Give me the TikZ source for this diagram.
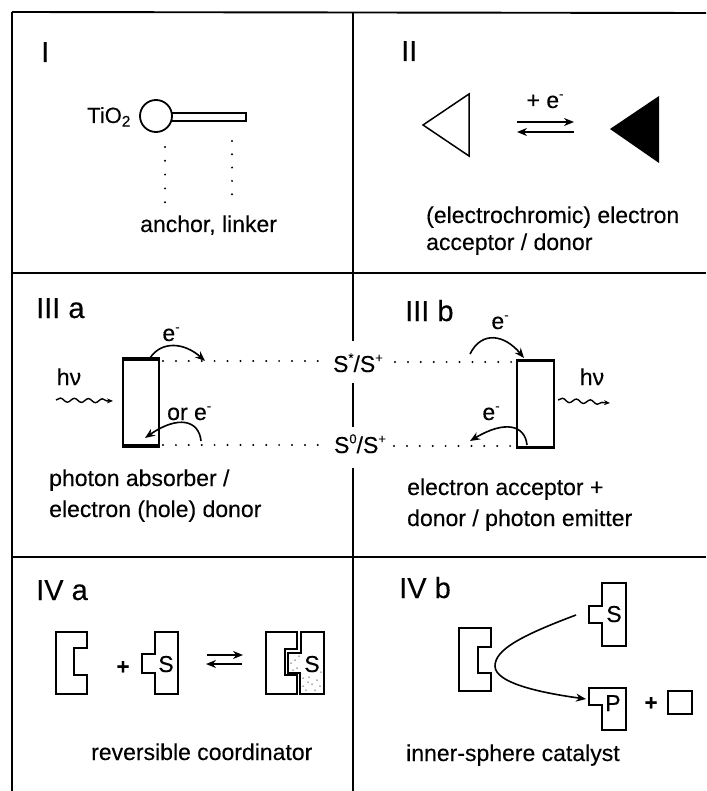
\documentclass[tikz,border=0pt]{standalone}
\usepackage{fontspec}
\setmainfont{Liberation Sans}[FakeBold=0.25]
\usetikzlibrary{arrows.meta,decorations.pathmorphing}
\tikzset{
  lab/.style={inner sep=0pt,anchor=base west,font=\fontsize{23}{26}\selectfont},
  midlab/.style={inner sep=0pt,anchor=base,font=\fontsize{23}{26}\selectfont},
  head/.style={inner sep=0pt,anchor=base west,font=\fontsize{29}{32}\selectfont},
  grid/.style={line width=1.9pt},
  gridthin/.style={line width=1.5pt},
  outline/.style={draw,line width=1.8pt,fill=white,line join=miter},
  dots/.style={line width=2.2pt,line cap=round,dash pattern=on 0pt off 12.9pt},
  arr/.style={line width=1.6pt,-{Stealth[length=10pt,width=8pt]}},
  wavy/.style={line width=1.4pt,-{Stealth[length=6pt,width=5pt]},decorate,
    decoration={snake,amplitude=2pt,segment length=14pt,post length=4pt}},
  box/.style={draw,line width=1.8pt,inner sep=0pt,fill=white},
  speck/.style={fill=black!65,inner sep=0pt,circle,minimum size=1.5pt}
}
\newcommand{\sm}[1]{\raisebox{0.42em}{\fontsize{13}{13}\selectfont #1}}
\begin{document}
\begin{tikzpicture}[x=1pt,y=-1pt]
\useasboundingbox (0,0) rectangle (706,791);
\fill[white] (0,0) rectangle (706,791);
% grid
\coordinate (tl) at (12,12); \coordinate (tr) at (706,13);
\coordinate (bl) at (12,791);
\coordinate (m0) at (353,12); \coordinate (m1) at (353,341);
\coordinate (m2) at (353,383); \coordinate (m3) at (353,427);
\coordinate (m4) at (353,468); \coordinate (m5) at (353,791);
\coordinate (h1l) at (12,273); \coordinate (h1r) at (706,273);
\coordinate (h2l) at (12,557); \coordinate (h2r) at (706,557);
\draw[grid] (tl) -- (tr);
\draw[grid] (tl) -- (bl);
\draw[grid] (h1l) -- (h1r);
\draw[grid] (h2l) -- (h2r);
\draw[gridthin] (m0) -- (m1);
\draw[gridthin] (m2) -- (m3);
\draw[gridthin] (m4) -- (m5);

% I
\node[head] (hI) at (41,62) {I};
\node[lab,font=\fontsize{22}{24}\selectfont] (tio) at (87,123) {TiO\textsubscript{2}};
\path[outline] (171,113) rectangle (246,121);
\node[circle,draw,line width=1.8pt,fill=white,minimum size=32pt,inner sep=0pt] (anchor) at (156,116) {};
\node[lab] (al) at (140,232) {anchor, linker};
\coordinate (d1a) at (165,147); \coordinate (d1b) at (165,203);
\coordinate (d2a) at (232,141); \coordinate (d2b) at (232,197);
\draw[dots,dash pattern=on 0pt off 13.8pt] (d1a) -- (d1b);
\draw[dots,dash pattern=on 0pt off 13.3pt] (d2a) -- (d2b);

% II
\node[head] (hII) at (401,61) {II};
\draw[line width=1.5pt,fill=white] (423,125) -- (469,94) -- (469,156) -- cycle;
\fill[black] (610,129) -- (659,96) -- (659,163) -- cycle;
\node[midlab] (pe) at (545,108) {+ e\sm{-}};
\coordinate (a1) at (517,122); \coordinate (a2) at (574,122);
\coordinate (a3) at (574,132); \coordinate (a4) at (517,132);
\draw[arr] (a1) -- (a2);
\draw[arr] (a3) -- (a4);
\node[lab] (t2a) at (426,223) {(electrochromic) electron};
\node[lab] (t2b) at (426,250) {acceptor / donor};

% III a
\node[head] (hIIIa) at (36,318) {III a};
\node[box,minimum width=36pt,minimum height=85pt] (ra) at (141,402.5) {};
\draw[line width=4pt] (ra.north west) -- (ra.north east);
\draw[line width=4pt] (ra.south west) -- (ra.south east);
\node[midlab] (hva) at (69,385) {hν};
\coordinate (wa1) at (56,400); \coordinate (wa2) at (113,401);
\draw[wavy] (wa1) -- (wa2);
\node[midlab] (ea) at (171,341) {e\sm{-}};
\coordinate (ea1) at (150,358); \coordinate (ea2) at (205,361);
\draw[arr] (ea1) .. controls (162,340) and (185,343) .. (ea2);
\node[lab] (ore) at (167,420) {or e\sm{-}};
\coordinate (eb1) at (201,441); \coordinate (eb2) at (145,438);
\draw[arr] (eb1) .. controls (199,420) and (178,415) .. (eb2);
\node[lab] (t3a) at (49,486) {photon absorber /};
\node[lab] (t3b) at (49,517) {electron (hole) donor};

% S labels
\node[midlab] (su) at (358,372) {S\sm{*}/S\sm{+}};
\node[midlab] (sl) at (360,453) {S\sm{0}/S\sm{+}};
\coordinate (du1) at (163,361); \coordinate (du2) at (322,361);
\coordinate (dl1) at (163,445); \coordinate (dl2) at (319,445);
\coordinate (du3) at (395,362); \coordinate (du4) at (515,362);
\coordinate (dl3) at (394,446); \coordinate (dl4) at (515,446);
\draw[dots] (du1) -- (du2);
\draw[dots] (dl1) -- (dl2);
\draw[dots] (du3) -- (du4);
\draw[dots] (dl3) -- (dl4);

% III b
\node[head] (hIIIb) at (405,321) {III b};
\node[box,minimum width=37pt,minimum height=85pt] (rb) at (535.5,404) {};
\draw[line width=3.5pt] (rb.north west) -- (rb.north east);
\draw[line width=3pt] (rb.south west) -- (rb.south east);
\node[midlab] (hvb) at (592,385) {hν};
\coordinate (wb1) at (558,400); \coordinate (wb2) at (610,403);
\draw[wavy] (wb1) -- (wb2);
\node[midlab] (ec) at (500,329) {e\sm{-}};
\coordinate (ec1) at (470,354); \coordinate (ec2) at (524,358);
\draw[arr] (ec1) .. controls (482,330) and (505,335) .. (ec2);
\node[midlab] (ed) at (491,420) {e\sm{-}};
\coordinate (ed1) at (527,445); \coordinate (ed2) at (470,441);
\draw[arr] (ed1) .. controls (525,425) and (505,420) .. (ed2);
\node[lab] (t3c) at (407,495) {electron acceptor +};
\node[lab] (t3d) at (407,526) {donor / photon emitter};

% IV a
\node[head] (hIVa) at (36,600) {IV a};
\draw[outline] (56,632) -- (87,632) -- (87,648) -- (74,648) -- (74,675) -- (87,675) -- (87,694) -- (56,694) -- cycle;
\node[midlab,font=\bfseries\fontsize{22}{24}\selectfont] (pa) at (123,674) {+};
\draw[outline] (155,632) -- (178,632) -- (178,694) -- (155,694) -- (155,673) -- (142,673) -- (142,654) -- (155,654) -- cycle;
\node[midlab] (sa) at (166,672) {S};
\coordinate (c1) at (207,655); \coordinate (c2) at (243,655);
\coordinate (c3) at (242,664); \coordinate (c4) at (206,664);
\draw[arr] (c1) -- (c2);
\draw[arr] (c3) -- (c4);
% complex
\draw[outline,line width=2pt] (266,632) -- (297,632) -- (297,649) -- (285,649) -- (285,675) -- (297,675) -- (297,694) -- (266,694) -- cycle;
\draw[outline,line width=2pt] (301,632) -- (324,632) -- (324,694) -- (300,694) -- (300,673) -- (288,673) -- (288,653) -- (301,653) -- cycle;
\node[midlab] (sb) at (312,672) {S};
\foreach \px/\py in {295/660,297/668,291/663,303/678,308/682,312/684,317/680,320/686,306/690,303/686,315/690,321/672,299/656,293/670,309/677}
  \node[speck] at (\px,\py) {};
\node[lab] (t4a) at (91,760) {reversible coordinator};

% IV b
\node[head] (hIVb) at (399,598) {IV b};
\draw[outline] (459,628) -- (491,628) -- (491,647) -- (478,647) -- (478,673) -- (491,673) -- (491,691) -- (459,691) -- cycle;
\draw[outline] (602,583) -- (626,583) -- (626,646) -- (602,646) -- (602,623) -- (589,623) -- (589,606) -- (602,606) -- cycle;
\node[midlab] (sc) at (614,622) {S};
\draw[outline] (589,688) -- (626,688) -- (626,730) -- (602,730) -- (602,705) -- (589,705) -- cycle;
\node[midlab] (pc) at (613,711) {P};
\coordinate (f1) at (576,615); \coordinate (f2) at (586,699);
\draw[arr] (f1) .. controls (520,636) and (495,650) .. (495,666) .. controls (495,682) and (535,692) .. (f2);
\node[midlab,font=\bfseries\fontsize{22}{24}\selectfont] (pd) at (651,710) {+};
\node[box,minimum width=24pt,minimum height=23pt] (sq) at (680,702.5) {};
\node[lab] (t4b) at (406,761) {inner-sphere catalyst};
\end{tikzpicture}
\end{document}
